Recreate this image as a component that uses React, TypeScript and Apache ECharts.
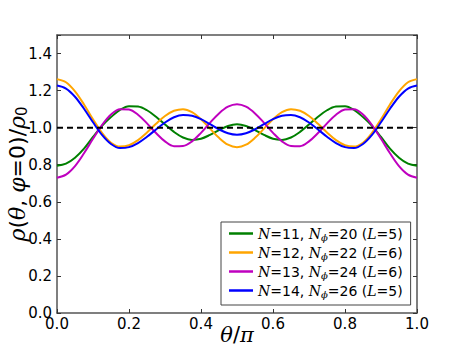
import React, { useEffect, useRef } from "react";
import * as echarts from "echarts";

const thetas = [
  0, 0.025, 0.05, 0.075, 0.1, 0.125, 0.15, 0.175, 0.2, 0.225, 0.25, 0.275, 0.3, 0.325, 0.35, 0.375, 0.4,
  0.425, 0.45, 0.475, 0.5, 0.525, 0.55, 0.575, 0.6, 0.625, 0.65, 0.675, 0.7, 0.725, 0.75, 0.775, 0.8,
  0.825, 0.85, 0.875, 0.9, 0.925, 0.95, 0.975, 1,
];

const greenN11 = [
  0.795, 0.806, 0.838, 0.887, 0.95, 1.01, 1.057, 1.096, 1.116, 1.114, 1.094, 1.059, 1.017, 0.977, 0.947,
  0.934, 0.94, 0.961, 0.987, 1.009, 1.018, 1.009, 0.987, 0.961, 0.94, 0.934, 0.947, 0.977, 1.017, 1.059,
  1.094, 1.114, 1.116, 1.096, 1.057, 1.01, 0.95, 0.887, 0.838, 0.806, 0.795,
];

const orangeN12 = [
  1.262, 1.245, 1.196, 1.125, 1.045, 0.972, 0.919, 0.898, 0.905, 0.933, 0.974, 1.021, 1.063, 1.091, 1.1,
  1.084, 1.046, 0.995, 0.945, 0.908, 0.895, 0.908, 0.945, 0.995, 1.046, 1.084, 1.1, 1.091, 1.063, 1.021,
  0.974, 0.933, 0.905, 0.898, 0.919, 0.972, 1.045, 1.125, 1.196, 1.245, 1.262,
];

const magentaN13 = [
  0.73, 0.747, 0.793, 0.862, 0.94, 1.014, 1.071, 1.1, 1.098, 1.07, 1.023, 0.971, 0.926, 0.9, 0.901, 0.926,
  0.972, 1.026, 1.077, 1.113, 1.126, 1.113, 1.077, 1.026, 0.972, 0.926, 0.901, 0.9, 0.926, 0.971, 1.023,
  1.07, 1.098, 1.1, 1.071, 1.014, 0.94, 0.862, 0.793, 0.747, 0.73,
];

const blueN14 = [
  1.227, 1.211, 1.167, 1.102, 1.029, 0.961, 0.912, 0.89, 0.895, 0.917, 0.951, 0.99, 1.028, 1.056, 1.068,
  1.064, 1.046, 1.019, 0.991, 0.97, 0.962, 0.97, 0.991, 1.019, 1.046, 1.064, 1.068, 1.056, 1.028, 0.99,
  0.951, 0.917, 0.895, 0.89, 0.912, 0.961, 1.029, 1.102, 1.167, 1.211, 1.227,
];

const refX = [0, 1];
const refY = [1, 1];

const seriesNames = ["N11", "N12", "N13", "N14"];
const legendLabels = [
  "{i|N}=11, {i|N}{s|ϕ}=20 ({i|L}=5)",
  "{i|N}=12, {i|N}{s|ϕ}=22 ({i|L}=6)",
  "{i|N}=13, {i|N}{s|ϕ}=24 ({i|L}=6)",
  "{i|N}=14, {i|N}{s|ϕ}=26 ({i|L}=5)",
];
const seriesColors = ["#008000", "#ffa500", "#bf00bf", "#0000ff"];
const seriesData = [greenN11, orangeN12, magentaN13, blueN14];

const xTicks = { min: 0, max: 1, interval: 0.2 };
const yTicks = { min: 0, max: 1.5, interval: 0.2 };

export default function App() {
  const ref = useRef<HTMLDivElement>(null);

  useEffect(() => {
    if (!ref.current) return;
    const chart = echarts.init(ref.current, null, { renderer: "svg" });
    const frameColor = "#555";
    const tickFont = { fontFamily: "DejaVu Sans", fontSize: 15, color: "#000" };

    const mkX = (pos: "bottom" | "top", labels: boolean) => ({
      type: "value",
      position: pos,
      min: xTicks.min,
      max: xTicks.max,
      interval: xTicks.interval,
      axisLine: { show: true, onZero: false, lineStyle: { color: frameColor, width: 1.5 } },
      axisTick: { show: true, inside: true, length: 4, lineStyle: { color: "#333", width: 1 } },
      axisLabel: labels
        ? { show: true, margin: 3, ...tickFont, formatter: (v: number) => v.toFixed(1) }
        : { show: false },
      splitLine: { show: false },
    });
    const mkY = (pos: "left" | "right", labels: boolean) => ({
      type: "value",
      position: pos,
      min: yTicks.min,
      max: yTicks.max,
      interval: yTicks.interval,
      axisLine: { show: true, onZero: false, lineStyle: { color: frameColor, width: 1.5 } },
      axisTick: { show: true, inside: true, length: 4, lineStyle: { color: "#333", width: 1 } },
      axisLabel: labels
        ? {
            show: true,
            margin: 5,
            ...tickFont,
            formatter: (v: number) => (v > 1.45 ? "" : v.toFixed(1)),
          }
        : { show: false },
      splitLine: { show: false },
    });

    const lineSeries = seriesNames.map((name, k) => ({
      name,
      type: "line",
      xAxisIndex: 0,
      yAxisIndex: 0,
      data: thetas.map((t, i) => [t, seriesData[k][i]]),
      showSymbol: false,
      smooth: 0.35,
      lineStyle: { color: seriesColors[k], width: 2 },
      itemStyle: { color: seriesColors[k] },
      z: 2,
    }));

    const labelMap: Record<string, string> = {};
    seriesNames.forEach((n, i) => (labelMap[n] = legendLabels[i]));

    chart.setOption({
      animation: false,
      backgroundColor: "#fff",
      grid: { left: 57, right: 46, top: 35, bottom: 35 },
      xAxis: [mkX("bottom", true), mkX("top", false)],
      yAxis: [mkY("left", true), mkY("right", false)],
      legend: {
        data: seriesNames,
        left: 221,
        top: 222,
        orient: "vertical",
        icon: "rect",
        itemWidth: 24,
        itemHeight: 2.5,
        itemGap: 0,
        padding: [2, 8, 5, 8],
        backgroundColor: "#fff",
        borderColor: "#444",
        borderWidth: 1,
        borderRadius: 0,
        formatter: (name: string) => labelMap[name],
        textStyle: {
          fontFamily: "DejaVu Sans",
          fontSize: 14,
          lineHeight: 19,
          color: "#000",
          rich: {
            i: { fontFamily: "DejaVu Serif", fontStyle: "italic", fontSize: 14, lineHeight: 19 },
            s: { fontFamily: "DejaVu Serif", fontStyle: "italic", fontSize: 10, lineHeight: 19, padding: [7, 0, 0, 0] },
          },
        },
      },
      graphic: [
        {
          type: "text",
          x: 17,
          y: 174,
          rotation: Math.PI / 2,
          style: {
            text: "{i|ρ}({i|θ}, {i|φ}=0)/{i|ρ}{s|0}",
            fontFamily: "DejaVu Sans",
            fontSize: 22,
            fill: "#000",
            align: "center",
            verticalAlign: "middle",
            rich: {
              i: { fontFamily: "DejaVu Serif", fontStyle: "italic", fontSize: 22 },
              s: { fontFamily: "DejaVu Sans", fontSize: 15, padding: [10, 0, 0, 0] },
            },
          },
        },
        {
          type: "text",
          x: 237,
          y: 335,
          style: {
            text: "{i|θ}/{i|π}",
            fontFamily: "DejaVu Sans",
            fontSize: 21,
            fill: "#000",
            align: "center",
            verticalAlign: "middle",
            rich: {
              i: { fontFamily: "DejaVu Serif", fontStyle: "italic", fontSize: 21 },
            },
          },
        },
      ],
      series: [
        ...lineSeries,
        {
          name: "ref",
          type: "line",
          data: refX.map((x, i) => [x, refY[i]]),
          showSymbol: false,
          lineStyle: { color: "#000", width: 2, type: [6, 4] },
          z: 3,
        },
      ],
    });
    return () => chart.dispose();
  }, []);

  return (
    <div
      ref={ref}
      style={{ position: "fixed", left: 0, top: 0, width: 463, height: 348 }}
    />
  );
}
